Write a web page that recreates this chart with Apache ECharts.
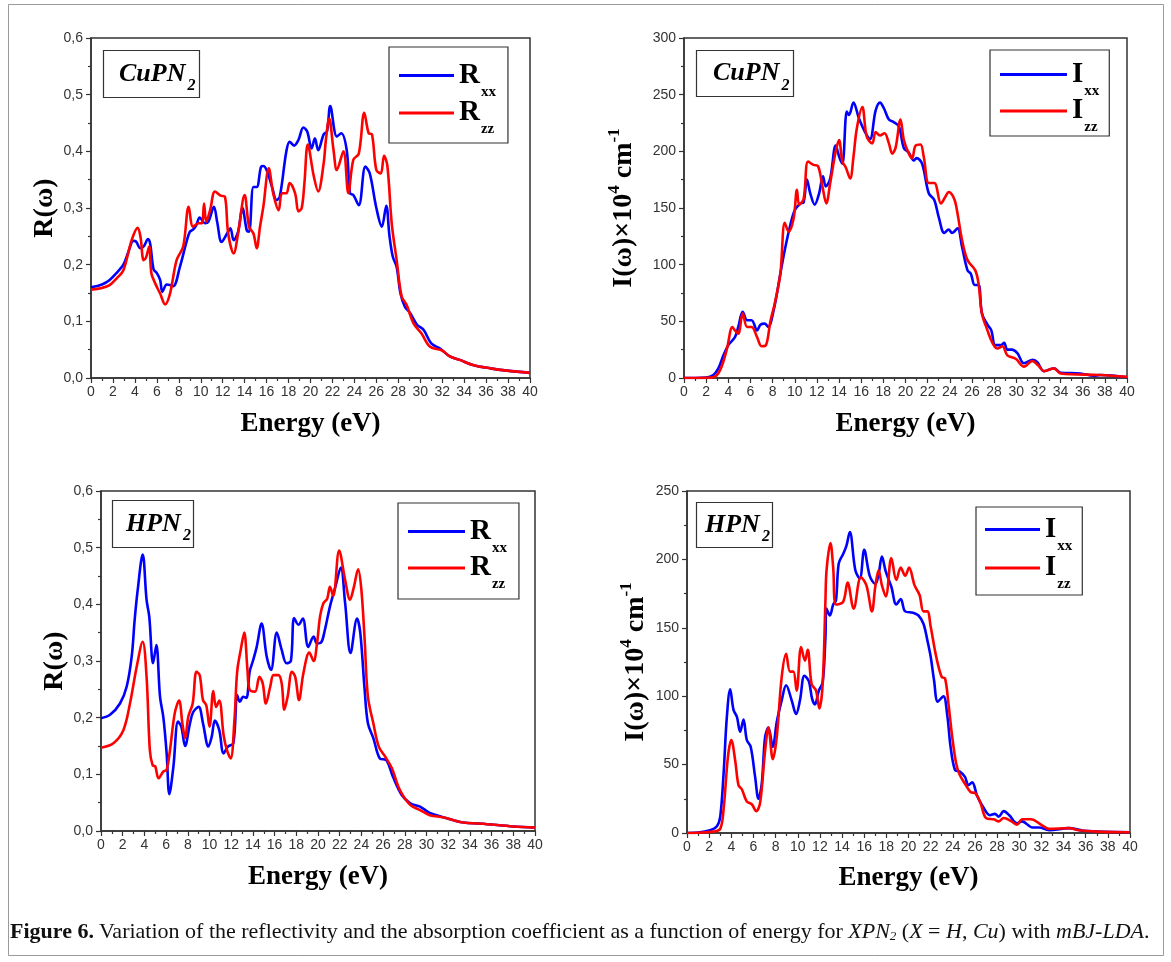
<!DOCTYPE html>
<html>
<head>
<meta charset="utf-8">
<script src="https://cdn.jsdelivr.net/npm/echarts@6/dist/echarts.min.js"></script>
<style>
  html, body { margin: 0; padding: 0; background: #fff; }
  #chart { width: 1171px; height: 962px; }
</style>
</head>
<body>
<div id="chart"></div>
<script>
// Reflectivity R(ω) and absorption I(ω) versus photon energy (eV), pairs [E, value]
const cuRxx = [[0,0.160],[1,0.165],[1.7,0.173],[2.4,0.187],[2.95,0.200],[3.4,0.222],[3.86,0.242],[4.1,0.241],[4.5,0.229],[4.8,0.232],[5.2,0.245],[5.4,0.236],[5.7,0.192],[6.0,0.185],[6.3,0.173],[6.5,0.152],[6.9,0.165],[7.2,0.164],[7.5,0.162],[8.1,0.196],[8.7,0.240],[9.0,0.258],[9.3,0.262],[9.6,0.270],[9.9,0.283],[10.4,0.273],[10.7,0.276],[11.2,0.302],[11.5,0.275],[11.9,0.240],[12.4,0.255],[12.7,0.264],[13.0,0.243],[13.4,0.258],[13.8,0.300],[14.2,0.260],[14.4,0.258],[14.8,0.337],[15.1,0.337],[15.5,0.373],[15.7,0.374],[16.0,0.367],[16.5,0.337],[16.9,0.314],[17.2,0.320],[17.8,0.400],[18.1,0.417],[18.5,0.410],[18.9,0.420],[19.35,0.442],[19.7,0.435],[20.1,0.405],[20.4,0.423],[20.7,0.402],[21.2,0.430],[21.5,0.435],[21.8,0.480],[22.4,0.426],[22.8,0.432],[23.3,0.402],[23.6,0.326],[23.9,0.323],[24.4,0.305],[25.0,0.373],[25.4,0.361],[26.0,0.300],[26.5,0.267],[26.9,0.304],[27.2,0.250],[27.5,0.214],[27.85,0.196],[28.2,0.149],[28.6,0.126],[29.1,0.114],[29.7,0.094],[30.3,0.085],[31.0,0.061],[31.8,0.052],[32.7,0.038],[33.6,0.032],[34.8,0.023],[36.4,0.017],[37.9,0.013],[40,0.009]];
const cuRzz = [[0,0.156],[1,0.159],[1.7,0.164],[2.4,0.177],[2.95,0.190],[3.7,0.243],[4.25,0.265],[4.5,0.250],[4.8,0.208],[5.0,0.212],[5.3,0.232],[5.5,0.185],[5.85,0.167],[6.3,0.149],[6.75,0.130],[7.2,0.149],[7.8,0.208],[8.4,0.232],[8.9,0.302],[9.3,0.267],[9.8,0.273],[10.1,0.273],[10.3,0.308],[10.5,0.276],[10.85,0.296],[11.3,0.329],[11.8,0.322],[12.2,0.320],[12.5,0.255],[13.0,0.220],[13.4,0.255],[14.0,0.323],[14.4,0.267],[14.8,0.255],[15.1,0.229],[15.4,0.267],[15.7,0.302],[16.2,0.370],[16.6,0.326],[17.1,0.296],[17.4,0.326],[17.8,0.326],[18.1,0.344],[18.6,0.326],[18.9,0.294],[19.2,0.300],[19.45,0.345],[19.75,0.412],[20.3,0.356],[20.7,0.329],[21.2,0.379],[21.4,0.420],[21.7,0.458],[22.1,0.402],[22.4,0.367],[23.0,0.400],[23.45,0.326],[23.9,0.385],[24.4,0.396],[24.9,0.468],[25.3,0.432],[25.6,0.430],[26.0,0.367],[26.4,0.361],[26.7,0.392],[27.0,0.375],[27.4,0.273],[27.85,0.208],[28.3,0.144],[28.75,0.129],[29.4,0.096],[30.1,0.079],[30.9,0.055],[31.95,0.049],[32.7,0.038],[33.6,0.032],[34.8,0.023],[36.4,0.017],[37.9,0.013],[40,0.009]];
const cuIxx = [[0,0],[1,0],[2,0.3],[2.65,2.6],[3.1,8.5],[3.56,20],[4.0,29],[4.6,36],[4.9,45],[5.3,58.5],[5.7,51],[6.1,51],[6.6,42],[6.9,47],[7.3,48],[7.6,45],[8.1,60],[8.7,92],[9.1,113],[9.6,135],[10.0,148],[10.5,154],[10.8,155],[11.1,175],[11.4,163],[11.8,153],[12.2,163],[12.55,178],[12.8,169],[13.2,176],[13.7,205],[14.05,194],[14.3,189],[14.7,235],[14.9,232],[15.3,243],[15.8,229],[16.4,216],[16.8,211],[17.3,236],[17.7,243],[18.05,238],[18.5,228],[18.9,226],[19.4,222],[19.85,203],[20.3,199],[20.75,192],[21.0,194],[21.5,189],[22.1,163],[22.6,157],[23.0,142],[23.5,128],[23.9,131],[24.2,128],[24.7,132],[25.1,116],[25.6,95],[25.9,92],[26.25,82],[26.6,82],[26.9,57],[27.4,47],[27.75,42],[28.1,29],[28.6,29],[28.9,31],[29.2,25],[29.6,25],[30.1,22],[30.7,13],[31.5,16],[31.9,14],[32.5,6],[33.4,8.5],[34.0,4.7],[35.8,4],[37.0,2],[37.6,2.6],[40,0.6]];
const cuIzz = [[0,0],[1,0],[2,0.1],[2.65,0.6],[3.26,7],[3.86,25],[4.37,45],[4.6,42],[4.9,39],[5.3,57],[5.7,45],[6.1,45],[6.6,36],[7.0,28],[7.4,29],[7.8,50],[8.2,66],[8.7,92],[9.1,137],[9.45,129],[9.9,141],[10.2,166],[10.4,153],[10.8,158],[11.2,191],[11.7,188],[12.1,187],[12.5,169],[12.85,154],[13.2,172],[13.7,200],[14.0,210],[14.3,191],[14.6,186],[15.0,176],[15.3,195],[15.6,220],[16.1,239],[16.5,213],[17.0,207],[17.3,217],[17.7,214],[18.1,216],[18.5,207],[18.8,198],[19.1,203],[19.55,228],[19.85,210],[20.3,198],[20.6,194],[20.9,205],[21.35,206],[21.65,195],[22.1,172],[22.6,172],[23.2,154],[23.6,160],[23.9,164],[24.4,158],[24.7,145],[25.1,122],[25.6,104],[26.3,95],[26.6,83],[26.9,57],[27.4,42],[27.85,31],[28.3,26],[28.75,28],[29.2,20],[29.95,17],[30.7,10],[31.45,15],[32.0,11],[32.5,6],[33.4,8.5],[34.0,4],[37.6,2.6],[40,1]];
const hRxx = [[0,0.199],[0.83,0.205],[1.75,0.225],[2.37,0.255],[2.83,0.308],[3.1,0.372],[3.38,0.425],[3.84,0.488],[4.2,0.408],[4.45,0.378],[4.8,0.296],[5.1,0.328],[5.44,0.237],[5.75,0.200],[6.05,0.137],[6.3,0.065],[6.67,0.113],[7.1,0.193],[7.4,0.184],[7.75,0.150],[8.2,0.190],[8.5,0.210],[9.0,0.219],[9.4,0.190],[9.9,0.149],[10.2,0.166],[10.5,0.195],[10.9,0.178],[11.3,0.137],[11.7,0.149],[12.2,0.155],[12.55,0.240],[12.8,0.228],[13.1,0.237],[13.4,0.235],[13.7,0.281],[14.0,0.300],[14.35,0.325],[14.8,0.366],[15.27,0.308],[15.67,0.284],[16.2,0.350],[16.65,0.320],[17.1,0.296],[17.5,0.300],[17.8,0.376],[18.2,0.364],[18.6,0.375],[19.1,0.325],[19.6,0.343],[19.9,0.331],[20.3,0.333],[20.6,0.352],[21.1,0.396],[21.6,0.431],[22.1,0.465],[22.5,0.402],[23.0,0.314],[23.6,0.375],[23.9,0.349],[24.3,0.249],[24.6,0.190],[25.1,0.164],[25.7,0.128],[26.3,0.125],[26.9,0.096],[27.7,0.064],[28.5,0.049],[29.4,0.043],[30.3,0.032],[31.6,0.024],[33.1,0.016],[35.6,0.012],[38.0,0.008],[40,0.006]];
const hRzz = [[0,0.147],[1.14,0.155],[2.06,0.178],[2.67,0.225],[3.29,0.290],[3.84,0.334],[4.2,0.272],[4.5,0.143],[4.76,0.116],[5.0,0.114],[5.3,0.093],[5.75,0.105],[6.05,0.108],[6.36,0.143],[6.8,0.208],[7.2,0.230],[7.5,0.190],[7.75,0.164],[8.05,0.202],[8.45,0.225],[8.8,0.281],[9.1,0.275],[9.4,0.231],[9.7,0.222],[10.0,0.184],[10.35,0.247],[10.6,0.219],[10.9,0.230],[11.3,0.169],[11.6,0.143],[11.95,0.128],[12.3,0.196],[12.55,0.281],[12.9,0.322],[13.2,0.350],[13.5,0.284],[13.7,0.249],[14.2,0.246],[14.6,0.272],[14.9,0.261],[15.2,0.225],[15.6,0.255],[15.9,0.275],[16.35,0.275],[16.65,0.261],[16.9,0.214],[17.2,0.237],[17.6,0.281],[17.9,0.272],[18.25,0.231],[18.65,0.278],[19.2,0.315],[19.6,0.300],[19.9,0.330],[20.2,0.380],[20.5,0.402],[20.85,0.410],[21.1,0.431],[21.4,0.415],[21.95,0.495],[22.5,0.443],[22.95,0.408],[23.3,0.430],[23.7,0.462],[24.0,0.425],[24.3,0.337],[24.6,0.237],[25.1,0.190],[25.6,0.149],[26.2,0.131],[26.8,0.111],[27.55,0.072],[28.5,0.046],[29.4,0.037],[30.3,0.028],[31.6,0.024],[33.1,0.016],[35.6,0.012],[38.0,0.008],[40,0.006]];
const hIxx = [[0,0],[1,0.3],[2.08,2],[2.7,5],[3.0,12],[3.3,43],[3.6,85],[3.9,105],[4.2,90],[4.5,85],[4.8,74],[5.1,83],[5.4,68],[5.75,63],[6.15,41],[6.45,25],[6.75,36],[7.05,70],[7.35,77],[7.75,63],[8.1,81],[8.55,97],[8.95,108],[9.45,97],[9.85,87],[10.2,97],[10.6,115],[11.0,111],[11.3,98],[11.55,94],[11.9,104],[12.25,110],[12.5,143],[12.6,164],[12.9,159],[13.2,167],[13.45,170],[13.7,197],[14.1,204],[14.4,210],[14.7,220],[15.2,192],[15.6,186],[16.0,207],[16.5,188],[17.0,182],[17.3,189],[17.6,202],[17.95,191],[18.45,180],[18.9,167],[19.3,171],[19.7,162],[20.4,161],[20.9,159],[21.35,153],[21.7,141],[22.0,129],[22.3,112],[22.65,96],[23.15,100],[23.5,86],[23.8,63],[24.2,46],[24.6,45],[25.1,41],[25.4,35],[25.75,37],[26.2,27],[26.7,19.5],[27.35,13],[27.8,14],[28.15,12],[28.6,16],[29.1,13],[29.8,7],[30.25,8.5],[31.2,4],[31.8,4],[32.7,2],[34.5,3.6],[35.8,1.7],[40,0.5]];
const hIzz = [[0,0],[1,0.2],[2.4,1],[3.0,3],[3.3,17],[3.7,56],[4.0,68],[4.35,53],[4.65,35],[4.95,32],[5.4,23],[5.85,21],[6.25,16],[6.6,22],[7.05,60],[7.35,77],[7.75,54],[8.1,70],[8.55,114],[8.95,131],[9.3,118],[9.6,118],[9.9,104],[10.3,136],[10.65,126],[10.9,134],[11.25,109],[11.65,104],[11.95,91],[12.25,109],[12.5,170],[12.6,192],[12.95,212],[13.2,194],[13.45,167],[14.1,169],[14.5,183],[15.05,164],[15.7,187],[16.2,181],[16.7,162],[17.0,180],[17.3,192],[17.6,181],[17.95,173],[18.45,201],[18.9,185],[19.3,194],[19.7,188],[20.05,194],[20.55,181],[21.0,174],[21.35,162],[21.7,162],[22.0,151],[22.5,129],[23.0,114],[23.3,113],[23.6,95],[23.95,70],[24.3,51],[24.6,43],[25.1,36],[25.6,30],[26.05,29],[26.5,22],[27.0,11],[27.7,10],[28.15,8.5],[28.6,11],[29.3,8.5],[29.8,6],[30.25,10],[31.05,10],[32.0,6],[32.7,3],[34.5,3.6],[35.4,2],[37.0,1],[40,0.5]];

// Axis ranges [min, max, interval]
const energyRange = [0, 40, 2];
const reflRange = [0, 0.6, 0.1];
const absCuRange = [0, 300, 50];
const absHRange = [0, 250, 50];
const compounds = ['CuPN', 'CuPN', 'HPN', 'HPN'];

const BLUE = '#0000ff', RED = '#ff0000', INK = '#333';
const SERIF = '"Liberation Serif", "Times New Roman", serif';
const SANS = '"Liberation Sans", Arial, sans-serif';

const panels = [
  { left: 91,  top: 38,  width: 439, height: 340, y: reflRange,  kind: 'R', a: cuRxx, b: cuRzz, yGap: 28, xGap: 33 },
  { left: 684, top: 38,  width: 443, height: 340, y: absCuRange, kind: 'I', a: cuIxx, b: cuIzz, yGap: 42, xGap: 33 },
  { left: 101, top: 491, width: 434, height: 340, y: reflRange,  kind: 'R', a: hRxx,  b: hRzz,  yGap: 28, xGap: 33 },
  { left: 687, top: 491, width: 443, height: 342, y: absHRange,  kind: 'I', a: hIxx,  b: hIzz,  yGap: 33, xGap: 32 }
];

const commaFmt = v => (Math.round(v * 10) / 10).toFixed(1).replace('.', ',');

const axisCommon = {
  axisLine: { show: true, onZero: false, lineStyle: { color: INK, width: 1.5 } },
  axisTick: { show: true, inside: false, length: 5, lineStyle: { color: INK, width: 1.2 } },
  minorTick: { show: true, splitNumber: 2, length: 3, lineStyle: { color: INK, width: 1.2 } },
  splitLine: { show: false },
  minorSplitLine: { show: false }
};

const nameRich = {
  a: { fontFamily: SERIF, fontWeight: 'bold', fontSize: 28, color: '#000', lineHeight: 36 },
  sup: { fontFamily: SERIF, fontWeight: 'bold', fontSize: 17, color: '#000', verticalAlign: 'top', lineHeight: 17 }
};

const grids = panels.map(p => ({
  left: p.left, top: p.top, width: p.width, height: p.height,
  show: true, borderColor: INK, borderWidth: 1.5, backgroundColor: 'transparent'
}));

const xAxes = panels.map((p, i) => Object.assign({}, axisCommon, {
  gridIndex: i, type: 'value',
  min: energyRange[0], max: energyRange[1], interval: energyRange[2],
  axisLabel: { fontFamily: SANS, fontSize: 14, color: INK, margin: 7 },
  name: 'Energy (eV)', nameLocation: 'middle', nameGap: p.xGap,
  nameTextStyle: { fontFamily: SERIF, fontWeight: 'bold', fontSize: 27, color: '#000' }
}));

const yAxes = panels.map((p, i) => Object.assign({}, axisCommon, {
  gridIndex: i, type: 'value',
  min: p.y[0], max: p.y[1], interval: p.y[2],
  axisLabel: {
    fontFamily: SANS, fontSize: 14, color: INK, margin: 8,
    formatter: p.kind === 'R' ? commaFmt : (v => String(v))
  },
  name: p.kind === 'R' ? '{a|R(ω)}' : '{a|I(ω)×10}{sup|4}{a| cm}{sup|-1}',
  nameLocation: 'middle', nameRotate: 90, nameGap: p.yGap,
  nameTextStyle: { rich: nameRich }
}));

const seriesList = [];
panels.forEach((p, i) => {
  const base = p.kind;
  [[base + 'xx', p.a, BLUE], [base + 'zz', p.b, RED]].forEach(([name, data, color]) => {
    seriesList.push({
      name, type: 'line', xAxisIndex: i, yAxisIndex: i,
      data, color, showSymbol: false, symbol: 'none', smooth: 0.35,
      lineStyle: { color, width: 2.6 }, emphasis: { disabled: true }, z: name.endsWith('zz') ? 3 : 2
    });
  });
});

// Legend entry: large symbol letter with a lowered subscript
const legendRich = {
  m: { fontFamily: SERIF, fontWeight: 'bold', fontSize: 29, color: '#000', lineHeight: 48 },
  s: { fontFamily: SERIF, fontWeight: 'bold', fontSize: 15, color: '#000', verticalAlign: 'bottom', lineHeight: 15, padding: [0, 0, 0, 1] }
};
const legendBoxes = [
  { left: 389, top: 47,  names: ['Rxx', 'Rzz'], padding: [14, 12, 6, 10], gap: -1, w: 55 },
  { left: 990, top: 50,  names: ['Ixx', 'Izz'], padding: [10, 10, 1, 10], gap: -2, w: 67 },
  { left: 398, top: 503, names: ['Rxx', 'Rzz'], padding: [14, 12, 7, 10], gap: -2, w: 57 },
  { left: 976, top: 507, names: ['Ixx', 'Izz'], padding: [8, 10, 3, 9],   gap: 0,  w: 55 }
];
const legends = legendBoxes.map(l => ({
  data: l.names, left: l.left, top: l.top, orient: 'vertical',
  icon: 'rect', itemWidth: l.w, itemHeight: 3, itemGap: l.gap,
  padding: l.padding, borderColor: INK, borderWidth: 1.2,
  selectedMode: false,
  itemStyle: { borderWidth: 0 },
  formatter: n => `{m|${n.charAt(0)}}{s|${n.slice(1)}}`,
  textStyle: { rich: legendRich }
}));

// Compound labels in framed boxes
const tagRich = {
  a: { fontFamily: SERIF, fontWeight: 'bold', fontStyle: 'italic', fontSize: 26, color: '#000', lineHeight: 40 },
  b: { fontFamily: SERIF, fontWeight: 'bold', fontStyle: 'italic', fontSize: 16, color: '#000', verticalAlign: 'bottom', lineHeight: 16, padding: [0, 0, 0, 2] }
};
// [box x, box y, box w, box h, text x]
const tagBoxes = [[103, 50, 96, 47, 119], [696, 50, 97, 46, 713], [112, 500, 81, 47, 126], [696, 502, 76, 45, 705]];
const tagGraphics = [];
compounds.forEach((c, i) => {
  const [bx, by, bw, bh, tx] = tagBoxes[i];
  tagGraphics.push({
    type: 'rect', silent: true, z: 10,
    shape: { x: bx + 0.5, y: by + 0.5, width: bw, height: bh },
    style: { fill: 'none', stroke: INK, lineWidth: 1.2 }
  });
  tagGraphics.push({
    type: 'text', silent: true, z: 10, x: tx, y: by + bh / 2 + 0.5,
    style: { text: `{a|${c}}{b|2}`, rich: tagRich, align: 'left', verticalAlign: 'middle' }
  });
});

const capRich = {
  b: { fontFamily: SERIF, fontWeight: 'bold', fontSize: 22, color: '#111' },
  n: { fontFamily: SERIF, fontWeight: 'normal', fontSize: 22, color: '#111' },
  i: { fontFamily: SERIF, fontWeight: 'normal', fontStyle: 'italic', fontSize: 22, color: '#111' },
  s: { fontFamily: SERIF, fontWeight: 'normal', fontStyle: 'italic', fontSize: 13, color: '#111', verticalAlign: 'bottom', lineHeight: 13, padding: [6, 0, 0, 0] }
};
const caption = {
  text: '{b|Figure 6.} {n|Variation of the reflectivity and the absorption coefficient as a function of energy for }{i|XPN}{s|2}{n| (}{i|X}{n| = }{i|H}{n|, }{i|Cu}{n|) with }{i|mBJ-LDA}{n|.}',
  left: 10, top: 921, padding: 0,
  textStyle: { fontWeight: 'normal', rich: capRich }
};

const chart = echarts.init(document.getElementById('chart'), null, { renderer: 'canvas' });
chart.setOption({
  animation: false,
  backgroundColor: '#fff',
  title: [caption],
  legend: legends,
  grid: grids,
  xAxis: xAxes,
  yAxis: yAxes,
  series: seriesList,
  graphic: [{
    type: 'rect', shape: { x: 8.5, y: 4.5, width: 1155, height: 951 },
    style: { fill: 'none', stroke: '#9a9a9a', lineWidth: 1 }, silent: true, z: -1
  }].concat(tagGraphics)
});
</script>
</body>
</html>
